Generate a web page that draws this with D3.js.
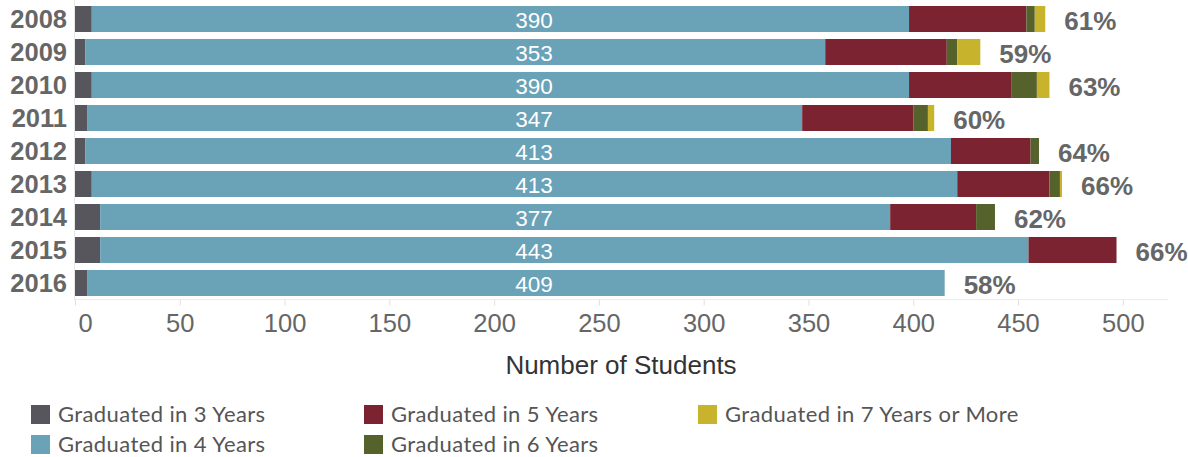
<!DOCTYPE html>
<html>
<head>
<meta charset="utf-8">
<script src="https://cdn.jsdelivr.net/npm/d3@7"></script>
<style>
  body { margin: 0; background: #fff; }
  svg { display: block; }
</style>
</head>
<body>
<svg width="1188" height="457"></svg>
<script>
// Data
var years = ["2008", "2009", "2010", "2011", "2012", "2013", "2014", "2015", "2016"];
var grad3 = [8, 5, 8, 6, 5, 8, 12, 12, 6];
var grad4 = [390, 353, 390, 341, 413, 413, 377, 443, 409];
var grad5 = [56, 58, 49, 53, 38, 44, 41, 42, 0];
var grad6 = [4, 5, 12, 7, 4, 5, 9, 0, 0];
var grad7 = [5, 11, 6, 3, 0, 1, 0, 0, 0];
var grad4Labels = [390, 353, 390, 347, 413, 413, 377, 443, 409];
var gradRate = [61, 59, 63, 60, 64, 66, 62, 66, 58];
var xTicks = [0, 50, 100, 150, 200, 250, 300, 350, 400, 450, 500];

var seriesNames = ["Graduated in 3 Years", "Graduated in 4 Years", "Graduated in 5 Years",
                   "Graduated in 6 Years", "Graduated in 7 Years or More"];
var seriesColors = ["#57565c", "#6aa2b8", "#7b2330", "#56622c", "#c7b42c"];

// The svg
var svg = d3.select("svg");

var rows = years.map(function (y, i) {
  return { year: y, g3: grad3[i], g4: grad4[i], g5: grad5[i], g6: grad6[i], g7: grad7[i],
           label: grad4Labels[i], rate: gradRate[i] };
});
var keys = ["g3", "g4", "g5", "g6", "g7"];
var stacked = d3.stack().keys(keys)(rows);

var x = d3.scaleLinear().domain([0, 523]).range([75, 1171]);
var y = d3.scaleBand().domain(years).range([2.5, 299.5]).paddingInner(7 / 33).paddingOuter(3.5 / 33);
var color = d3.scaleOrdinal().domain(keys).range(seriesColors);

// axis lines / grid
svg.append("line")
    .attr("x1", 74.5).attr("x2", 74.5).attr("y1", 0).attr("y2", 299.5)
    .attr("stroke", "#e6e6e6");
svg.append("line")
    .attr("x1", 74).attr("x2", 1168).attr("y1", 299.5).attr("y2", 299.5)
    .attr("stroke", "#ececec");

// bars
svg.append("g")
  .selectAll("g")
  .data(stacked)
  .enter().append("g")
    .attr("fill", function (d) { return color(d.key); })
  .selectAll("rect")
  .data(function (d) { return d; })
  .enter().append("rect")
    .attr("x", function (d) { return x(d[0]); })
    .attr("y", function (d) { return y(d.data.year); })
    .attr("width", function (d) { return x(d[1]) - x(d[0]); })
    .attr("height", y.bandwidth());

// 4-year labels (white, inside the blue segment)
svg.append("g")
  .selectAll("text")
  .data(rows)
  .enter().append("text")
    .attr("x", x(219))
    .attr("y", function (d) { return y(d.year) + y.bandwidth() / 2 + 8.5; })
    .attr("text-anchor", "middle")
    .attr("fill", "#fff")
    .style("font", "22.5px 'Liberation Sans', Arial, sans-serif")
    .text(function (d) { return d.label; });

// graduation rate labels
svg.append("g")
  .selectAll("text")
  .data(rows)
  .enter().append("text")
    .attr("x", function (d) { return x(d.g3 + d.g4 + d.g5 + d.g6 + d.g7) + 45; })
    .attr("y", function (d) { return y(d.year) + y.bandwidth() / 2 + 10.5; })
    .attr("text-anchor", "middle")
    .attr("fill", "#666")
    .style("font", "bold 26px 'Liberation Sans', Arial, sans-serif")
    .text(function (d) { return d.rate + "%"; });

// year labels
svg.append("g")
  .selectAll("text")
  .data(years)
  .enter().append("text")
    .attr("x", 67)
    .attr("y", function (d) { return y(d) + y.bandwidth() / 2 + 8.5; })
    .attr("text-anchor", "end")
    .attr("fill", "#666")
    .style("font", "bold 25.5px 'Liberation Sans', Arial, sans-serif")
    .text(function (d) { return d; });

// x axis
var xAxis = svg.append("g")
    .attr("transform", "translate(0,299.5)")
    .call(d3.axisBottom(x).tickValues(xTicks).tickSize(6).tickPadding(8).tickFormat(d3.format("d")));
xAxis.select(".domain").remove();
xAxis.selectAll(".tick line").attr("stroke", "#e0e0e0");
xAxis.selectAll(".tick text")
    .attr("fill", "#666")
    .style("font", "25.5px 'Liberation Sans', Arial, sans-serif");
xAxis.selectAll(".tick text")
    .filter(function (d) { return d === 0; })
    .attr("text-anchor", "start")
    .attr("dx", 3);

svg.append("text")
    .attr("x", 621)
    .attr("y", 374)
    .attr("text-anchor", "middle")
    .attr("fill", "#333")
    .style("font", "26px 'Liberation Sans', Arial, sans-serif")
    .text("Number of Students");

// Legend
var legendPos = [[31, 405], [31, 435], [364, 405], [364, 435], [698, 405]];
var legend = svg.append("g")
  .selectAll("g")
  .data(seriesNames)
  .enter().append("g")
    .attr("transform", function (d, i) { return "translate(" + legendPos[i][0] + "," + legendPos[i][1] + ")"; });
legend.append("rect")
    .attr("width", 19).attr("height", 19)
    .attr("fill", function (d, i) { return seriesColors[i]; });
legend.append("text")
    .attr("x", 27)
    .attr("y", 17)
    .attr("fill", "#555")
    .style("font", "22px Lato, 'Noto Sans', sans-serif")
    .style("letter-spacing", "0.4px")
    .text(function (d) { return d; });
</script>
</body>
</html>
